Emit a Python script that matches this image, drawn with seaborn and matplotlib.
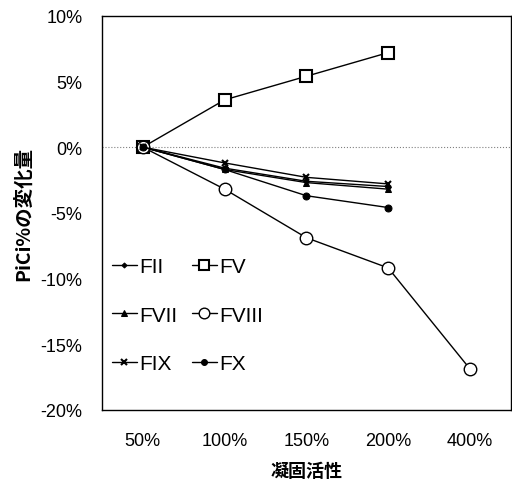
import matplotlib
matplotlib.use('Agg')
import matplotlib.pyplot as plt
import seaborn as sns
import pandas as pd

# Data
activity = ['50%', '100%', '150%', '200%', '400%']
fii = [0, -1.6, -2.6, -3.0]
fv = [0, 3.6, 5.4, 7.2]
fvii = [0, -1.7, -2.7, -3.2]
fviii = [0, -3.2, -6.9, -9.2, -16.9]
fix = [0, -1.2, -2.3, -2.8]
fx = [0, -1.7, -3.7, -4.6]

series = {'FII': fii, 'FV': fv, 'FVII': fvii, 'FVIII': fviii, 'FIX': fix, 'FX': fx}
styles = {
    'FII': dict(marker='D', markersize=3, markerfacecolor='black'),
    'FV': dict(marker='s', markersize=9, markerfacecolor='white', markeredgewidth=1.5),
    'FVII': dict(marker='^', markersize=5, markerfacecolor='black'),
    'FVIII': dict(marker='o', markersize=9, markerfacecolor='white', markeredgewidth=1.0),
    'FIX': dict(marker='x', markersize=5, markeredgewidth=1.5),
    'FX': dict(marker='o', markersize=5, markerfacecolor='black'),
}

rows = []
for name, vals in series.items():
    for i, v in enumerate(vals):
        rows.append({'factor': name, 'pos': i, 'value': v})
df = pd.DataFrame(rows)

sns.set_style('white')
plt.rcParams['font.family'] = ['Liberation Sans', 'Noto Sans CJK JP', 'DejaVu Sans']
plt.rcParams['text.color'] = 'black'
plt.rcParams['xtick.color'] = 'black'
plt.rcParams['ytick.color'] = 'black'
plt.rcParams['axes.labelcolor'] = 'black'

fig = plt.figure(figsize=(5.12, 4.81), dpi=100)
ax = fig.add_axes([0.199, 0.146, 0.799, 0.819])

ax.axhline(0, color='gray', lw=0.8, ls=':', zorder=1)

handles = {}
for name in series:
    sub = df[df['factor'] == name]
    sns.lineplot(data=sub, x='pos', y='value', ax=ax, color='black', lw=1.0,
                 markeredgecolor='black', label=name, legend=False, zorder=3,
                 **styles[name])
    handles[name] = ax.lines[-1]

ax.set_xlim(-0.5, len(activity) - 0.5)
ax.set_ylim(-20, 10)
ax.set_xticks(range(len(activity)))
ax.set_xticklabels(activity)
ax.set_yticks(range(-20, 11, 5))
ax.set_yticklabels([f'{t}%' for t in range(-20, 11, 5)])
ax.tick_params(length=0, labelsize=13)
ax.tick_params(axis='x', pad=16)
ax.tick_params(axis='y', pad=14)
for s in ax.spines.values():
    s.set_color('black')
    s.set_linewidth(1.0)

cjk = ['Noto Sans CJK JP', 'DejaVu Sans']
ax.set_xlabel('凝固活性', fontsize=13, fontweight='bold', family=cjk, labelpad=9)
ax.set_ylabel('PiCi%の変化量', fontsize=14, fontweight='bold', family=cjk, labelpad=5)

order = ['FII', 'FVII', 'FIX', 'FV', 'FVIII', 'FX']
ax.legend([handles[n] for n in order], order, ncol=2, loc='center left',
          bbox_to_anchor=(0.024, 0.24), frameon=False, fontsize=15,
          borderpad=0, borderaxespad=0, markerscale=0.85,
          handlelength=1.2, handletextpad=0.12, columnspacing=0.7,
          labelspacing=1.42)

fig.savefig('out.png', dpi=100)
